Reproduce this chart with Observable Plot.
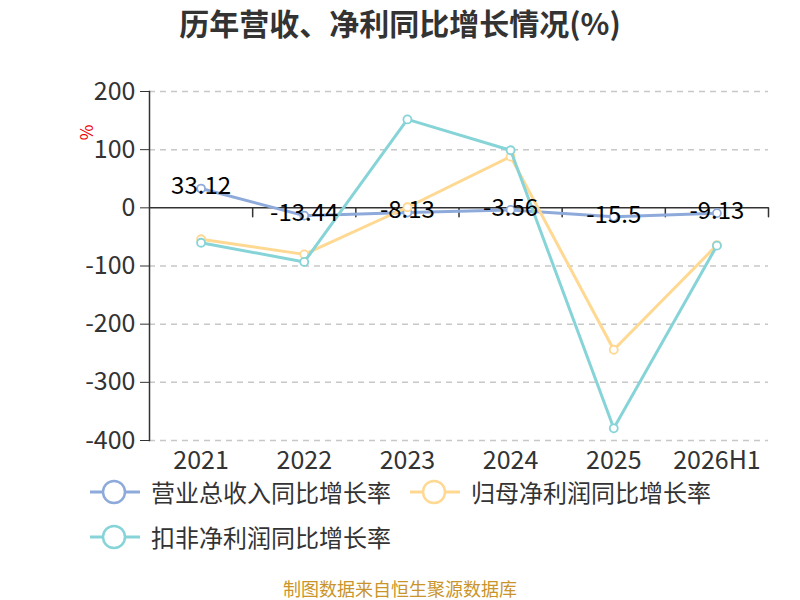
<!DOCTYPE html>
<html>
<head>
<meta charset="utf-8">
<script src="https://cdn.jsdelivr.net/npm/d3@7"></script>
<script src="https://cdn.jsdelivr.net/npm/@observablehq/plot@0.6"></script>
<style>
  body { margin: 0; background: #fff; font-family: "Noto Sans CJK SC", "Noto Sans", sans-serif; }
  #wrap { position: relative; width: 800px; height: 600px; overflow: hidden; }
  #title { position: absolute; top: 0px; left: 0; width: 800px; text-align: center; font-size: 30px; line-height: 44px; font-weight: bold; color: #333; }
  #chart { position: absolute; top: 0; left: 0; }
  #unit { position: absolute; left: 78px; top: 120px; color: #e00; font-size: 17px; transform: rotate(-90deg); transform-origin: center; }
  .leg { position: absolute; display: flex; align-items: center; font-size: 24px; line-height: 32px; color: #333; white-space: nowrap; }
  .leg svg { margin-right: 11px; }
  #caption { position: absolute; top: 578px; left: 0; width: 800px; text-align: center; font-size: 18px; line-height: 20px; color: #c9952b; }
</style>
</head>
<body>
<div id="wrap">
  <div id="chart"></div>
  <div id="title">历年营收、净利同比增长情况(%)</div>
  <div id="unit">%</div>
  <div id="legend"></div>
  <div id="caption">制图数据来自恒生聚源数据库</div>
</div>
<script>
const categories = ["2021", "2022", "2023", "2024", "2025", "2026H1"];
const revenueGrowth = [33.12, -13.44, -8.13, -3.56, -15.5, -9.13];
const netProfitGrowth = [-54, -80, 1, 88, -244, -64];
const deductedProfitGrowth = [-60, -93, 152, 99, -379, -65];
const seriesNames = ["营业总收入同比增长率", "归母净利润同比增长率", "扣非净利润同比增长率"];
const seriesColors = ["#8eaadb", "#ffd892", "#86d4d8"];
const yTicks = [-400, -300, -200, -100, 0, 100, 200];

const allSeries = [revenueGrowth, netProfitGrowth, deductedProfitGrowth];
const rows = allSeries.map((vals, s) => vals.map((v, i) => ({i, v, s})));
const boundaries = categories.map((c, i) => i + 0.5);

const tickShape = { draw(ctx, l) { ctx.moveTo(0, 0); ctx.lineTo(0, -l); } };

const marks = [
  Plot.ruleY(yTicks.filter(t => t !== 0), {stroke: "#c8c8c8", strokeWidth: 1.5, strokeDasharray: "6,5"}),
  Plot.axisY({ticks: yTicks, tickSize: 9, tickPadding: 5, fontSize: 25, color: "#333", label: null, tickFormat: d => String(d)}),
  Plot.frame({anchor: "left", stroke: "#333", strokeWidth: 1.5}),
  Plot.ruleY([0], {stroke: "#333", strokeWidth: 1.5}),
  Plot.vector(boundaries, {x: d => d, y: 0, length: 9, rotate: 180, anchor: "start", shape: tickShape, stroke: "#333", strokeWidth: 1.5}),
  Plot.axisX({ticks: categories.map((c, i) => i), tickSize: 0, tickPadding: 11, fontSize: 25, color: "#333", label: null, tickFormat: i => categories[i]})
];
rows.forEach((data, s) => {
  marks.push(Plot.line(data, {x: "i", y: "v", stroke: seriesColors[s], strokeWidth: 3}));
  marks.push(Plot.dot(data, {x: "i", y: "v", r: 4, fill: "#fff", stroke: seriesColors[s], strokeWidth: 1.8}));
});
marks.push(Plot.text(rows[0], {x: "i", y: "v", text: d => String(d.v), fontSize: 24, fill: "#000", dy: -2}));

const chart = Plot.plot({
  width: 800,
  height: 480,
  marginLeft: 149,
  marginRight: 32,
  marginTop: 91,
  marginBottom: 40,
  style: {fontFamily: "'Noto Sans CJK SC', 'Noto Sans', sans-serif", background: "transparent", overflow: "visible"},
  x: {type: "linear", domain: [-0.5, categories.length - 0.5], axis: null},
  y: {domain: [-400, 200], axis: null},
  marks
});
document.getElementById("chart").appendChild(chart);

// legend
const legendPos = [[90, 492], [410, 492], [90, 537]];
const legend = document.getElementById("legend");
seriesNames.forEach((name, s) => {
  const div = document.createElement("div");
  div.className = "leg";
  div.style.left = legendPos[s][0] + "px";
  div.style.top = (legendPos[s][1] - 16) + "px";
  div.innerHTML = `<svg width="50" height="32"><line x1="0" y1="16" x2="50" y2="16" stroke="${seriesColors[s]}" stroke-width="3"/><circle cx="24" cy="16" r="11" fill="#fff" stroke="${seriesColors[s]}" stroke-width="2.5"/></svg><span>${name}</span>`;
  legend.appendChild(div);
});
</script>
</body>
</html>
